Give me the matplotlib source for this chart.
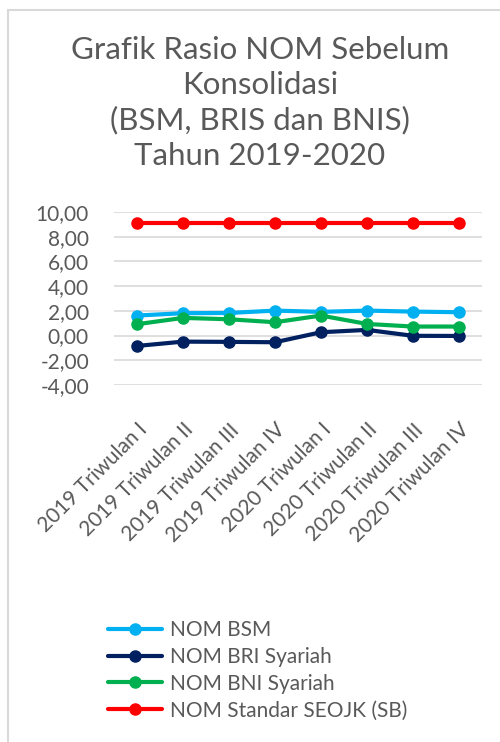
import matplotlib
matplotlib.use("Agg")
import matplotlib.pyplot as plt
from matplotlib.patches import Rectangle

QUARTERS = [
    "2019 Triwulan I", "2019 Triwulan II", "2019 Triwulan III", "2019 Triwulan IV",
    "2020 Triwulan I", "2020 Triwulan II", "2020 Triwulan III", "2020 Triwulan IV",
]
NOM_BSM = [1.62, 1.81, 1.83, 2.02, 1.92, 2.02, 1.94, 1.89]
NOM_BRIS = [-0.84, -0.49, -0.51, -0.54, 0.27, 0.46, -0.02, -0.03]
NOM_BNIS = [0.92, 1.43, 1.32, 1.08, 1.62, 0.94, 0.73, 0.73]
NOM_STANDAR = [9.1] * 8

SERIES = [
    ("NOM BSM", NOM_BSM, "#00B0F0"),
    ("NOM BRI Syariah", NOM_BRIS, "#002060"),
    ("NOM BNI Syariah", NOM_BNIS, "#00B050"),
    ("NOM Standar SEOJK (SB)", NOM_STANDAR, "#FF0000"),
]
Y_TICKS = [-4, -2, 0, 2, 4, 6, 8, 10]

TEXT = "#595959"
GRID = "#D9D9D9"

plt.rcParams["font.family"] = ["Lato", "DejaVu Sans"]

fig = plt.figure(figsize=(5.0, 7.42), dpi=100)
fig.patch.set_facecolor("white")

# chart area border (only left/top visible in the crop)
fig.patches.append(Rectangle((8 / 500, -0.1), 1.2, 1 - 10 / 742 + 0.1,
                             transform=fig.transFigure, fill=False,
                             edgecolor=GRID, linewidth=1.5))

fig.text(0.52, 1 - 36 / 742,
         "Grafik Rasio NOM Sebelum\nKonsolidasi\n(BSM, BRIS dan BNIS)\nTahun 2019-2020",
         ha="center", va="top", fontsize=22.5, color=TEXT, linespacing=1.3)

ax = fig.add_axes([114 / 500, 1 - 385 / 742, 368 / 500, 173 / 742])
x = list(range(len(QUARTERS)))
for label, vals, color in SERIES:
    ax.plot(x, vals, color=color, linewidth=3, marker="o", markersize=8,
            label=label, solid_capstyle="round")

ax.set_xlim(-0.5, len(QUARTERS) - 0.5)
ax.set_ylim(-4, 10)
ax.set_yticks(Y_TICKS)
ax.set_yticklabels([f"{v:.2f}".replace(".", ",") for v in Y_TICKS])
ax.set_xticks(x)
ax.set_xticklabels(QUARTERS, rotation=45, ha="right", va="top",
                   rotation_mode="anchor")
ax.tick_params(axis="both", length=0, colors=TEXT, labelsize=15)
ax.tick_params(axis="x", pad=25)
ax.tick_params(axis="y", pad=18)
ax.grid(axis="y", color=GRID, linewidth=1.2)
ax.set_axisbelow(True)
for s in ax.spines.values():
    s.set_visible(False)

fig.legend(loc="upper left", bbox_to_anchor=(108 / 500, 1 - 620 / 742),
           frameon=False, fontsize=15, labelcolor=TEXT,
           handlelength=2.6, handletextpad=0.4, labelspacing=0.33,
           borderaxespad=0, borderpad=0)

fig.savefig("out.png", dpi=100)
